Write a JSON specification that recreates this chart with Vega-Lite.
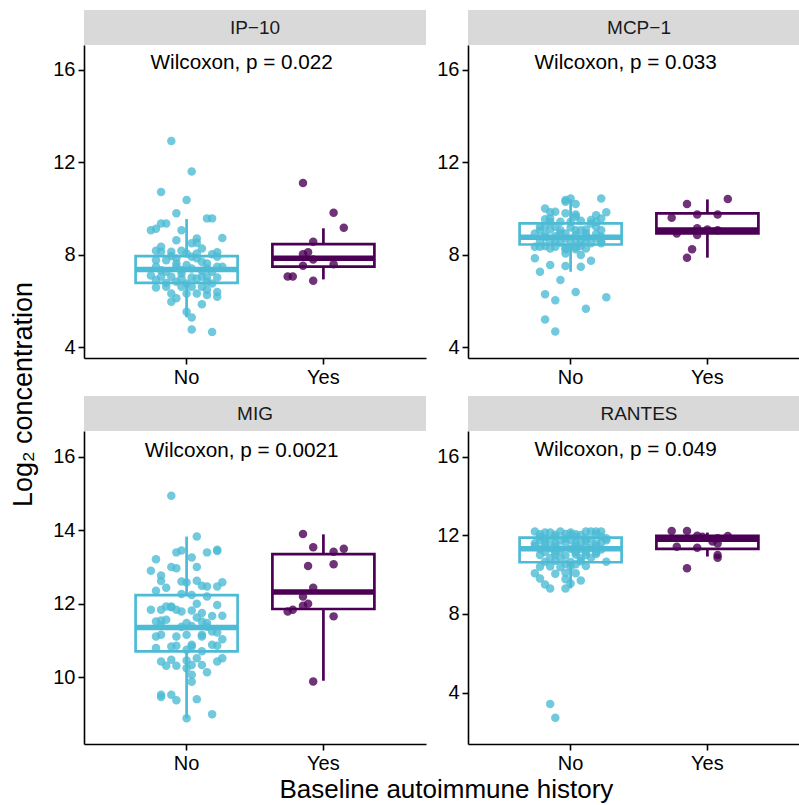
{
"$schema":"https://vega.github.io/schema/vega-lite/v6.json",
"padding":{"left":9,"top":10,"right":0,"bottom":0},
"title":{"text":"Log₂ concentration","orient":"left","anchor":"middle","fontSize":27,"font":"Liberation Sans","fontWeight":"normal","color":"black","offset":15,"dx":12},
"datasets":{
"box":[
{"cytokine":"IP-10","group":"No","lower":5.30,"q1":6.79,"median":7.37,"q3":7.95,"upper":9.55},
{"cytokine":"IP-10","group":"Yes","lower":6.94,"q1":7.49,"median":7.85,"q3":8.47,"upper":9.15},
{"cytokine":"MCP-1","group":"No","lower":7.27,"q1":8.45,"median":8.76,"q3":9.36,"upper":10.40},
{"cytokine":"MCP-1","group":"Yes","lower":7.88,"q1":8.93,"median":9.08,"q3":9.80,"upper":10.40},
{"cytokine":"MIG","group":"No","lower":8.89,"q1":10.71,"median":11.36,"q3":12.24,"upper":13.83},
{"cytokine":"MIG","group":"Yes","lower":9.91,"q1":11.86,"median":12.32,"q3":13.35,"upper":13.89},
{"cytokine":"RANTES","group":"No","lower":9.30,"q1":10.63,"median":11.32,"q3":11.88,"upper":12.27},
{"cytokine":"RANTES","group":"Yes","lower":10.92,"q1":11.31,"median":11.80,"q3":11.97,"upper":12.14}
],
"lab":[
{"cytokine":"IP-10","label":"Wilcoxon, p = 0.022","y":16.29},
{"cytokine":"MCP-1","label":"Wilcoxon, p = 0.033","y":16.29},
{"cytokine":"MIG","label":"Wilcoxon, p = 0.0021","y":16.15},
{"cytokine":"RANTES","label":"Wilcoxon, p = 0.049","y":16.34}
],
"pts":[
{"cytokine":"IP-10","group":"No","id":5,"value":12.93},{"cytokine":"IP-10","group":"No","id":9,"value":11.61},{"cytokine":"IP-10","group":"No","id":3,"value":10.72},{"cytokine":"IP-10","group":"No","id":8,"value":10.37},{"cytokine":"IP-10","group":"No","id":6,"value":9.80},{"cytokine":"IP-10","group":"No","id":12,"value":9.58},{"cytokine":"IP-10","group":"No","id":13,"value":9.58},{"cytokine":"IP-10","group":"No","id":3,"value":9.36},{"cytokine":"IP-10","group":"No","id":4,"value":9.36},{"cytokine":"IP-10","group":"No","id":1,"value":9.07},{"cytokine":"IP-10","group":"No","id":2,"value":9.13},{"cytokine":"IP-10","group":"No","id":7,"value":9.07},{"cytokine":"IP-10","group":"No","id":6,"value":8.63},{"cytokine":"IP-10","group":"No","id":10,"value":8.71},{"cytokine":"IP-10","group":"No","id":10,"value":8.53},{"cytokine":"IP-10","group":"No","id":15,"value":8.73},{"cytokine":"IP-10","group":"No","id":2,"value":8.18},{"cytokine":"IP-10","group":"No","id":3,"value":8.14},{"cytokine":"IP-10","group":"No","id":7,"value":8.18},{"cytokine":"IP-10","group":"No","id":14,"value":8.11},{"cytokine":"IP-10","group":"No","id":13,"value":8.03},{"cytokine":"IP-10","group":"No","id":5,"value":7.95},{"cytokine":"IP-10","group":"No","id":4,"value":7.77},{"cytokine":"IP-10","group":"No","id":9,"value":7.92},{"cytokine":"IP-10","group":"No","id":10,"value":7.85},{"cytokine":"IP-10","group":"No","id":11,"value":7.70},{"cytokine":"IP-10","group":"No","id":6,"value":7.63},{"cytokine":"IP-10","group":"No","id":8,"value":7.56},{"cytokine":"IP-10","group":"No","id":2,"value":7.49},{"cytokine":"IP-10","group":"No","id":3,"value":7.34},{"cytokine":"IP-10","group":"No","id":15,"value":7.49},{"cytokine":"IP-10","group":"No","id":7,"value":7.34},{"cytokine":"IP-10","group":"No","id":9,"value":7.41},{"cytokine":"IP-10","group":"No","id":11,"value":7.31},{"cytokine":"IP-10","group":"No","id":13,"value":7.27},{"cytokine":"IP-10","group":"No","id":12,"value":7.63},{"cytokine":"IP-10","group":"No","id":1,"value":7.11},{"cytokine":"IP-10","group":"No","id":3,"value":7.05},{"cytokine":"IP-10","group":"No","id":5,"value":7.05},{"cytokine":"IP-10","group":"No","id":7,"value":6.98},{"cytokine":"IP-10","group":"No","id":9,"value":7.02},{"cytokine":"IP-10","group":"No","id":11,"value":7.05},{"cytokine":"IP-10","group":"No","id":14,"value":7.02},{"cytokine":"IP-10","group":"No","id":4,"value":6.79},{"cytokine":"IP-10","group":"No","id":6,"value":6.84},{"cytokine":"IP-10","group":"No","id":8,"value":6.76},{"cytokine":"IP-10","group":"No","id":12,"value":6.84},{"cytokine":"IP-10","group":"No","id":13,"value":6.76},{"cytokine":"IP-10","group":"No","id":2,"value":6.59},{"cytokine":"IP-10","group":"No","id":7,"value":6.62},{"cytokine":"IP-10","group":"No","id":11,"value":6.62},{"cytokine":"IP-10","group":"No","id":12,"value":6.48},{"cytokine":"IP-10","group":"No","id":14,"value":6.40},{"cytokine":"IP-10","group":"No","id":5,"value":6.33},{"cytokine":"IP-10","group":"No","id":10,"value":6.33},{"cytokine":"IP-10","group":"No","id":12,"value":6.26},{"cytokine":"IP-10","group":"No","id":14,"value":6.19},{"cytokine":"IP-10","group":"No","id":6,"value":6.12},{"cytokine":"IP-10","group":"No","id":5,"value":5.97},{"cytokine":"IP-10","group":"No","id":11,"value":5.87},{"cytokine":"IP-10","group":"No","id":8,"value":5.54},{"cytokine":"IP-10","group":"No","id":9,"value":5.29},{"cytokine":"IP-10","group":"No","id":9,"value":4.77},{"cytokine":"IP-10","group":"No","id":13,"value":4.67},{"cytokine":"IP-10","group":"No","id":8,"value":8.06},{"cytokine":"IP-10","group":"No","id":6,"value":7.84},{"cytokine":"IP-10","group":"No","id":11,"value":8.28},{"cytokine":"IP-10","group":"No","id":14,"value":7.49},{"cytokine":"IP-10","group":"No","id":2,"value":7.77},{"cytokine":"IP-10","group":"No","id":10,"value":6.98},{"cytokine":"IP-10","group":"No","id":7,"value":7.20},{"cytokine":"IP-10","group":"No","id":4,"value":7.27},{"cytokine":"IP-10","group":"No","id":12,"value":7.41},{"cytokine":"IP-10","group":"No","id":10,"value":8.06},{"cytokine":"IP-10","group":"No","id":2,"value":6.91},{"cytokine":"IP-10","group":"No","id":14,"value":7.92},{"cytokine":"IP-10","group":"No","id":6,"value":7.49},{"cytokine":"IP-10","group":"No","id":8,"value":6.33},{"cytokine":"IP-10","group":"No","id":9,"value":6.62},{"cytokine":"IP-10","group":"No","id":4,"value":6.62},{"cytokine":"IP-10","group":"No","id":12,"value":7.05},{"cytokine":"IP-10","group":"No","id":5,"value":8.14},{"cytokine":"IP-10","group":"No","id":3,"value":8.35},{"cytokine":"IP-10","group":"No","id":9,"value":8.50},
{"cytokine":"IP-10","group":"Yes","id":4,"value":11.11},{"cytokine":"IP-10","group":"Yes","id":10,"value":9.82},{"cytokine":"IP-10","group":"Yes","id":12,"value":9.17},{"cytokine":"IP-10","group":"Yes","id":6,"value":8.57},{"cytokine":"IP-10","group":"Yes","id":5,"value":8.11},{"cytokine":"IP-10","group":"Yes","id":4,"value":8.03},{"cytokine":"IP-10","group":"Yes","id":6,"value":7.80},{"cytokine":"IP-10","group":"Yes","id":10,"value":7.60},{"cytokine":"IP-10","group":"Yes","id":4,"value":7.53},{"cytokine":"IP-10","group":"Yes","id":1,"value":7.07},{"cytokine":"IP-10","group":"Yes","id":2,"value":7.07},{"cytokine":"IP-10","group":"Yes","id":6,"value":6.88},
{"cytokine":"MCP-1","group":"No","id":8,"value":10.44},{"cytokine":"MCP-1","group":"No","id":7,"value":10.37},{"cytokine":"MCP-1","group":"No","id":7,"value":10.30},{"cytokine":"MCP-1","group":"No","id":14,"value":10.44},{"cytokine":"MCP-1","group":"No","id":9,"value":10.20},{"cytokine":"MCP-1","group":"No","id":3,"value":10.01},{"cytokine":"MCP-1","group":"No","id":4,"value":9.84},{"cytokine":"MCP-1","group":"No","id":7,"value":9.80},{"cytokine":"MCP-1","group":"No","id":9,"value":9.75},{"cytokine":"MCP-1","group":"No","id":13,"value":9.72},{"cytokine":"MCP-1","group":"No","id":15,"value":9.84},{"cytokine":"MCP-1","group":"No","id":3,"value":9.54},{"cytokine":"MCP-1","group":"No","id":4,"value":9.58},{"cytokine":"MCP-1","group":"No","id":6,"value":9.43},{"cytokine":"MCP-1","group":"No","id":8,"value":9.43},{"cytokine":"MCP-1","group":"No","id":10,"value":9.48},{"cytokine":"MCP-1","group":"No","id":12,"value":9.51},{"cytokine":"MCP-1","group":"No","id":14,"value":9.58},{"cytokine":"MCP-1","group":"No","id":2,"value":9.22},{"cytokine":"MCP-1","group":"No","id":4,"value":9.10},{"cytokine":"MCP-1","group":"No","id":6,"value":9.07},{"cytokine":"MCP-1","group":"No","id":8,"value":9.19},{"cytokine":"MCP-1","group":"No","id":11,"value":9.10},{"cytokine":"MCP-1","group":"No","id":13,"value":9.22},{"cytokine":"MCP-1","group":"No","id":1,"value":8.93},{"cytokine":"MCP-1","group":"No","id":3,"value":8.86},{"cytokine":"MCP-1","group":"No","id":5,"value":8.81},{"cytokine":"MCP-1","group":"No","id":7,"value":8.93},{"cytokine":"MCP-1","group":"No","id":9,"value":8.86},{"cytokine":"MCP-1","group":"No","id":11,"value":8.79},{"cytokine":"MCP-1","group":"No","id":13,"value":8.90},{"cytokine":"MCP-1","group":"No","id":14,"value":8.79},{"cytokine":"MCP-1","group":"No","id":2,"value":8.57},{"cytokine":"MCP-1","group":"No","id":4,"value":8.61},{"cytokine":"MCP-1","group":"No","id":6,"value":8.53},{"cytokine":"MCP-1","group":"No","id":9,"value":8.64},{"cytokine":"MCP-1","group":"No","id":10,"value":8.53},{"cytokine":"MCP-1","group":"No","id":14,"value":8.57},{"cytokine":"MCP-1","group":"No","id":1,"value":8.35},{"cytokine":"MCP-1","group":"No","id":3,"value":8.38},{"cytokine":"MCP-1","group":"No","id":5,"value":8.35},{"cytokine":"MCP-1","group":"No","id":7,"value":8.28},{"cytokine":"MCP-1","group":"No","id":9,"value":8.33},{"cytokine":"MCP-1","group":"No","id":11,"value":8.28},{"cytokine":"MCP-1","group":"No","id":14,"value":8.50},{"cytokine":"MCP-1","group":"No","id":10,"value":8.00},{"cytokine":"MCP-1","group":"No","id":9,"value":8.24},{"cytokine":"MCP-1","group":"No","id":1,"value":7.85},{"cytokine":"MCP-1","group":"No","id":12,"value":7.75},{"cytokine":"MCP-1","group":"No","id":4,"value":7.56},{"cytokine":"MCP-1","group":"No","id":7,"value":7.52},{"cytokine":"MCP-1","group":"No","id":10,"value":7.49},{"cytokine":"MCP-1","group":"No","id":2,"value":7.27},{"cytokine":"MCP-1","group":"No","id":6,"value":6.91},{"cytokine":"MCP-1","group":"No","id":9,"value":6.39},{"cytokine":"MCP-1","group":"No","id":3,"value":6.30},{"cytokine":"MCP-1","group":"No","id":15,"value":6.17},{"cytokine":"MCP-1","group":"No","id":5,"value":6.04},{"cytokine":"MCP-1","group":"No","id":11,"value":5.67},{"cytokine":"MCP-1","group":"No","id":3,"value":5.21},{"cytokine":"MCP-1","group":"No","id":5,"value":4.69},{"cytokine":"MCP-1","group":"No","id":2,"value":9.07},{"cytokine":"MCP-1","group":"No","id":5,"value":9.22},{"cytokine":"MCP-1","group":"No","id":7,"value":8.71},{"cytokine":"MCP-1","group":"No","id":9,"value":9.07},{"cytokine":"MCP-1","group":"No","id":11,"value":8.64},{"cytokine":"MCP-1","group":"No","id":13,"value":8.71},{"cytokine":"MCP-1","group":"No","id":4,"value":8.28},{"cytokine":"MCP-1","group":"No","id":6,"value":8.93},{"cytokine":"MCP-1","group":"No","id":10,"value":9.07},{"cytokine":"MCP-1","group":"No","id":12,"value":8.50},{"cytokine":"MCP-1","group":"No","id":3,"value":8.76},{"cytokine":"MCP-1","group":"No","id":8,"value":8.50},{"cytokine":"MCP-1","group":"No","id":13,"value":9.43},{"cytokine":"MCP-1","group":"No","id":4,"value":9.43},{"cytokine":"MCP-1","group":"No","id":5,"value":8.57},{"cytokine":"MCP-1","group":"No","id":11,"value":8.93},{"cytokine":"MCP-1","group":"No","id":7,"value":8.06},{"cytokine":"MCP-1","group":"No","id":14,"value":9.07},{"cytokine":"MCP-1","group":"No","id":2,"value":8.35},{"cytokine":"MCP-1","group":"No","id":9,"value":9.65},{"cytokine":"MCP-1","group":"No","id":5,"value":9.87},{"cytokine":"MCP-1","group":"No","id":10,"value":8.38},{"cytokine":"MCP-1","group":"No","id":7,"value":8.24},{"cytokine":"MCP-1","group":"No","id":12,"value":9.36},{"cytokine":"MCP-1","group":"No","id":3,"value":9.22},
{"cytokine":"MCP-1","group":"Yes","id":4,"value":10.20},{"cytokine":"MCP-1","group":"Yes","id":12,"value":10.42},{"cytokine":"MCP-1","group":"Yes","id":1,"value":9.61},{"cytokine":"MCP-1","group":"Yes","id":6,"value":9.75},{"cytokine":"MCP-1","group":"Yes","id":10,"value":9.75},{"cytokine":"MCP-1","group":"Yes","id":2,"value":8.93},{"cytokine":"MCP-1","group":"Yes","id":6,"value":8.86},{"cytokine":"MCP-1","group":"Yes","id":6,"value":9.15},{"cytokine":"MCP-1","group":"Yes","id":10,"value":9.07},{"cytokine":"MCP-1","group":"Yes","id":5,"value":8.24},{"cytokine":"MCP-1","group":"Yes","id":4,"value":7.88},{"cytokine":"MCP-1","group":"Yes","id":8,"value":9.10},
{"cytokine":"MIG","group":"No","id":5,"value":14.94},{"cytokine":"MIG","group":"No","id":10,"value":13.83},{"cytokine":"MIG","group":"No","id":6,"value":13.40},{"cytokine":"MIG","group":"No","id":7,"value":13.45},{"cytokine":"MIG","group":"No","id":12,"value":13.40},{"cytokine":"MIG","group":"No","id":14,"value":13.47},{"cytokine":"MIG","group":"No","id":14,"value":13.44},{"cytokine":"MIG","group":"No","id":9,"value":13.26},{"cytokine":"MIG","group":"No","id":2,"value":13.21},{"cytokine":"MIG","group":"No","id":5,"value":13.00},{"cytokine":"MIG","group":"No","id":6,"value":12.97},{"cytokine":"MIG","group":"No","id":10,"value":13.00},{"cytokine":"MIG","group":"No","id":1,"value":12.90},{"cytokine":"MIG","group":"No","id":3,"value":12.77},{"cytokine":"MIG","group":"No","id":3,"value":12.62},{"cytokine":"MIG","group":"No","id":7,"value":12.61},{"cytokine":"MIG","group":"No","id":8,"value":12.58},{"cytokine":"MIG","group":"No","id":10,"value":12.63},{"cytokine":"MIG","group":"No","id":11,"value":12.49},{"cytokine":"MIG","group":"No","id":12,"value":12.47},{"cytokine":"MIG","group":"No","id":14,"value":12.47},{"cytokine":"MIG","group":"No","id":15,"value":12.59},{"cytokine":"MIG","group":"No","id":4,"value":12.44},{"cytokine":"MIG","group":"No","id":2,"value":12.36},{"cytokine":"MIG","group":"No","id":7,"value":12.27},{"cytokine":"MIG","group":"No","id":9,"value":12.24},{"cytokine":"MIG","group":"No","id":12,"value":12.20},{"cytokine":"MIG","group":"No","id":10,"value":12.00},{"cytokine":"MIG","group":"No","id":4,"value":11.93},{"cytokine":"MIG","group":"No","id":5,"value":11.91},{"cytokine":"MIG","group":"No","id":5,"value":11.93},{"cytokine":"MIG","group":"No","id":1,"value":11.84},{"cytokine":"MIG","group":"No","id":3,"value":11.84},{"cytokine":"MIG","group":"No","id":6,"value":11.84},{"cytokine":"MIG","group":"No","id":7,"value":11.79},{"cytokine":"MIG","group":"No","id":9,"value":11.82},{"cytokine":"MIG","group":"No","id":11,"value":11.75},{"cytokine":"MIG","group":"No","id":13,"value":11.67},{"cytokine":"MIG","group":"No","id":15,"value":11.68},{"cytokine":"MIG","group":"No","id":10,"value":11.63},{"cytokine":"MIG","group":"No","id":2,"value":11.52},{"cytokine":"MIG","group":"No","id":3,"value":11.55},{"cytokine":"MIG","group":"No","id":11,"value":11.52},{"cytokine":"MIG","group":"No","id":12,"value":11.48},{"cytokine":"MIG","group":"No","id":7,"value":11.38},{"cytokine":"MIG","group":"No","id":8,"value":11.48},{"cytokine":"MIG","group":"No","id":9,"value":11.40},{"cytokine":"MIG","group":"No","id":3,"value":11.42},{"cytokine":"MIG","group":"No","id":12,"value":11.38},{"cytokine":"MIG","group":"No","id":13,"value":11.25},{"cytokine":"MIG","group":"No","id":14,"value":11.22},{"cytokine":"MIG","group":"No","id":3,"value":11.16},{"cytokine":"MIG","group":"No","id":8,"value":11.16},{"cytokine":"MIG","group":"No","id":11,"value":11.11},{"cytokine":"MIG","group":"No","id":11,"value":11.16},{"cytokine":"MIG","group":"No","id":15,"value":11.04},{"cytokine":"MIG","group":"No","id":9,"value":10.89},{"cytokine":"MIG","group":"No","id":9,"value":10.84},{"cytokine":"MIG","group":"No","id":13,"value":10.89},{"cytokine":"MIG","group":"No","id":14,"value":10.86},{"cytokine":"MIG","group":"No","id":2,"value":10.80},{"cytokine":"MIG","group":"No","id":5,"value":10.84},{"cytokine":"MIG","group":"No","id":6,"value":10.86},{"cytokine":"MIG","group":"No","id":8,"value":10.75},{"cytokine":"MIG","group":"No","id":11,"value":10.71},{"cytokine":"MIG","group":"No","id":10,"value":10.52},{"cytokine":"MIG","group":"No","id":15,"value":10.52},{"cytokine":"MIG","group":"No","id":14,"value":10.43},{"cytokine":"MIG","group":"No","id":3,"value":10.43},{"cytokine":"MIG","group":"No","id":5,"value":10.48},{"cytokine":"MIG","group":"No","id":4,"value":10.32},{"cytokine":"MIG","group":"No","id":6,"value":10.32},{"cytokine":"MIG","group":"No","id":8,"value":10.46},{"cytokine":"MIG","group":"No","id":9,"value":10.34},{"cytokine":"MIG","group":"No","id":11,"value":10.34},{"cytokine":"MIG","group":"No","id":8,"value":10.25},{"cytokine":"MIG","group":"No","id":12,"value":10.14},{"cytokine":"MIG","group":"No","id":9,"value":10.07},{"cytokine":"MIG","group":"No","id":9,"value":9.88},{"cytokine":"MIG","group":"No","id":3,"value":9.53},{"cytokine":"MIG","group":"No","id":3,"value":9.47},{"cytokine":"MIG","group":"No","id":5,"value":9.53},{"cytokine":"MIG","group":"No","id":6,"value":9.38},{"cytokine":"MIG","group":"No","id":10,"value":9.41},{"cytokine":"MIG","group":"No","id":13,"value":9.00},{"cytokine":"MIG","group":"No","id":8,"value":8.89},{"cytokine":"MIG","group":"No","id":4,"value":11.57},{"cytokine":"MIG","group":"No","id":6,"value":11.11},{"cytokine":"MIG","group":"No","id":14,"value":11.97},{"cytokine":"MIG","group":"No","id":2,"value":11.11},
{"cytokine":"MIG","group":"Yes","id":4,"value":13.90},{"cytokine":"MIG","group":"Yes","id":6,"value":13.54},{"cytokine":"MIG","group":"Yes","id":10,"value":13.42},{"cytokine":"MIG","group":"Yes","id":12,"value":13.50},{"cytokine":"MIG","group":"Yes","id":5,"value":13.03},{"cytokine":"MIG","group":"Yes","id":10,"value":13.08},{"cytokine":"MIG","group":"Yes","id":6,"value":12.44},{"cytokine":"MIG","group":"Yes","id":4,"value":12.20},{"cytokine":"MIG","group":"Yes","id":5,"value":12.00},{"cytokine":"MIG","group":"Yes","id":4,"value":11.95},{"cytokine":"MIG","group":"Yes","id":2,"value":11.84},{"cytokine":"MIG","group":"Yes","id":1,"value":11.79},{"cytokine":"MIG","group":"Yes","id":10,"value":11.66},{"cytokine":"MIG","group":"Yes","id":6,"value":9.89},
{"cytokine":"RANTES","group":"No","id":1,"value":12.19},{"cytokine":"RANTES","group":"No","id":3,"value":12.15},{"cytokine":"RANTES","group":"No","id":4,"value":12.15},{"cytokine":"RANTES","group":"No","id":6,"value":12.19},{"cytokine":"RANTES","group":"No","id":8,"value":12.15},{"cytokine":"RANTES","group":"No","id":11,"value":12.19},{"cytokine":"RANTES","group":"No","id":12,"value":12.19},{"cytokine":"RANTES","group":"No","id":13,"value":12.19},{"cytokine":"RANTES","group":"No","id":14,"value":12.19},
{"cytokine":"RANTES","group":"No","id":2,"value":11.93},{"cytokine":"RANTES","group":"No","id":3,"value":11.85},{"cytokine":"RANTES","group":"No","id":5,"value":11.93},{"cytokine":"RANTES","group":"No","id":7,"value":11.85},{"cytokine":"RANTES","group":"No","id":9,"value":11.93},{"cytokine":"RANTES","group":"No","id":11,"value":11.85},{"cytokine":"RANTES","group":"No","id":14,"value":11.93},{"cytokine":"RANTES","group":"No","id":15,"value":11.85},
{"cytokine":"RANTES","group":"No","id":1,"value":11.60},{"cytokine":"RANTES","group":"No","id":3,"value":11.65},{"cytokine":"RANTES","group":"No","id":5,"value":11.58},{"cytokine":"RANTES","group":"No","id":7,"value":11.62},{"cytokine":"RANTES","group":"No","id":9,"value":11.60},{"cytokine":"RANTES","group":"No","id":10,"value":11.66},{"cytokine":"RANTES","group":"No","id":13,"value":11.58},{"cytokine":"RANTES","group":"No","id":14,"value":11.62},
{"cytokine":"RANTES","group":"No","id":2,"value":11.30},{"cytokine":"RANTES","group":"No","id":4,"value":11.34},{"cytokine":"RANTES","group":"No","id":6,"value":11.28},{"cytokine":"RANTES","group":"No","id":8,"value":11.32},{"cytokine":"RANTES","group":"No","id":10,"value":11.30},{"cytokine":"RANTES","group":"No","id":12,"value":11.35},{"cytokine":"RANTES","group":"No","id":14,"value":11.28},
{"cytokine":"RANTES","group":"No","id":2,"value":11.00},{"cytokine":"RANTES","group":"No","id":5,"value":11.04},{"cytokine":"RANTES","group":"No","id":7,"value":10.98},{"cytokine":"RANTES","group":"No","id":9,"value":11.02},{"cytokine":"RANTES","group":"No","id":11,"value":11.00},{"cytokine":"RANTES","group":"No","id":13,"value":11.05},
{"cytokine":"RANTES","group":"No","id":3,"value":10.66},{"cytokine":"RANTES","group":"No","id":5,"value":10.70},{"cytokine":"RANTES","group":"No","id":8,"value":10.64},{"cytokine":"RANTES","group":"No","id":10,"value":10.68},{"cytokine":"RANTES","group":"No","id":15,"value":10.66},
{"cytokine":"RANTES","group":"No","id":2,"value":10.40},{"cytokine":"RANTES","group":"No","id":4,"value":10.42},{"cytokine":"RANTES","group":"No","id":6,"value":10.38},{"cytokine":"RANTES","group":"No","id":8,"value":10.40},{"cytokine":"RANTES","group":"No","id":11,"value":10.44},
{"cytokine":"RANTES","group":"No","id":1,"value":10.07},{"cytokine":"RANTES","group":"No","id":5,"value":10.05},{"cytokine":"RANTES","group":"No","id":7,"value":10.10},{"cytokine":"RANTES","group":"No","id":9,"value":10.07},
{"cytokine":"RANTES","group":"No","id":2,"value":9.80},{"cytokine":"RANTES","group":"No","id":7,"value":9.76},{"cytokine":"RANTES","group":"No","id":10,"value":9.70},
{"cytokine":"RANTES","group":"No","id":3,"value":9.50},{"cytokine":"RANTES","group":"No","id":8,"value":9.55},{"cytokine":"RANTES","group":"No","id":4,"value":9.30},{"cytokine":"RANTES","group":"No","id":7,"value":9.30},
{"cytokine":"RANTES","group":"No","id":4,"value":3.41},{"cytokine":"RANTES","group":"No","id":5,"value":2.71},
{"cytokine":"RANTES","group":"No","id":2,"value":12.05},{"cytokine":"RANTES","group":"No","id":5,"value":12.03},{"cytokine":"RANTES","group":"No","id":7,"value":12.07},{"cytokine":"RANTES","group":"No","id":9,"value":12.05},{"cytokine":"RANTES","group":"No","id":10,"value":12.02},{"cytokine":"RANTES","group":"No","id":13,"value":12.06},
{"cytokine":"RANTES","group":"No","id":2,"value":11.75},{"cytokine":"RANTES","group":"No","id":4,"value":11.78},{"cytokine":"RANTES","group":"No","id":6,"value":11.74},{"cytokine":"RANTES","group":"No","id":8,"value":11.76},{"cytokine":"RANTES","group":"No","id":11,"value":11.72},{"cytokine":"RANTES","group":"No","id":12,"value":11.77},{"cytokine":"RANTES","group":"No","id":15,"value":11.75},
{"cytokine":"RANTES","group":"No","id":1,"value":11.45},{"cytokine":"RANTES","group":"No","id":3,"value":11.47},{"cytokine":"RANTES","group":"No","id":5,"value":11.44},{"cytokine":"RANTES","group":"No","id":9,"value":11.46},{"cytokine":"RANTES","group":"No","id":11,"value":11.43},{"cytokine":"RANTES","group":"No","id":13,"value":11.45},
{"cytokine":"RANTES","group":"No","id":3,"value":11.15},{"cytokine":"RANTES","group":"No","id":5,"value":11.17},{"cytokine":"RANTES","group":"No","id":9,"value":11.14},{"cytokine":"RANTES","group":"No","id":11,"value":11.16},{"cytokine":"RANTES","group":"No","id":13,"value":11.15},
{"cytokine":"RANTES","group":"No","id":4,"value":10.85},{"cytokine":"RANTES","group":"No","id":6,"value":10.87},{"cytokine":"RANTES","group":"No","id":10,"value":10.84},{"cytokine":"RANTES","group":"No","id":12,"value":10.86},{"cytokine":"RANTES","group":"No","id":7,"value":10.55},{"cytokine":"RANTES","group":"No","id":9,"value":10.53},
{"cytokine":"RANTES","group":"Yes","id":1,"value":12.22},{"cytokine":"RANTES","group":"Yes","id":4,"value":12.22},{"cytokine":"RANTES","group":"Yes","id":6,"value":11.98},{"cytokine":"RANTES","group":"Yes","id":12,"value":11.97},{"cytokine":"RANTES","group":"Yes","id":10,"value":11.85},{"cytokine":"RANTES","group":"Yes","id":2,"value":11.42},{"cytokine":"RANTES","group":"Yes","id":6,"value":11.37},{"cytokine":"RANTES","group":"Yes","id":10,"value":11.59},{"cytokine":"RANTES","group":"Yes","id":10,"value":11.00},{"cytokine":"RANTES","group":"Yes","id":10,"value":10.86},{"cytokine":"RANTES","group":"Yes","id":4,"value":10.32},{"cytokine":"RANTES","group":"Yes","id":7,"value":11.93},{"cytokine":"RANTES","group":"Yes","id":9,"value":11.68}
]
},
"vconcat":[{
"title":{"text":"Baseline autoimmune history","orient":"bottom","anchor":"middle","fontSize":26,"font":"Liberation Sans","fontWeight":"normal","color":"black","offset":4,"dx":15},
"spacing":9,
"vconcat":[
{"hconcat":[
{"spacing":0,"vconcat":[
{"width":342,"height":35,"view":{"fill":"#d9d9d9","stroke":null},"data":{"values":[{"name":"IP−10"}]},"mark":{"type":"text","fontSize":19,"color":"#1a1a1a"},"encoding":{"text":{"field":"name"}}},
{"width":342,"height":313,"layer":[
{"data":{"name":"box"},"transform":[{"filter":"datum.cytokine === 'IP-10'"}],"mark":{"type":"rule","strokeWidth":2.7},"encoding":{"x":{"field":"group","type":"nominal","title":null,"scale":{"domain":["No","Yes"],"paddingInner":0.254,"paddingOuter":0.377}},"y":{"field":"lower","type":"quantitative","title":null,"scale":{"domain":[3.54,17.08],"nice":false,"zero":false},"axis":{"values":[4,8,12,16]}},"y2":{"field":"upper"},"color":{"field":"group","type":"nominal","scale":{"domain":["No","Yes"],"range":["#4DBBD5","#4B0055"]},"legend":null}}},
{"data":{"name":"box"},"transform":[{"filter":"datum.cytokine === 'IP-10'"}],"mark":{"type":"bar","fill":"white","strokeWidth":2.7,"width":102},"encoding":{"x":{"field":"group","type":"nominal","title":null},"y":{"field":"q1","type":"quantitative","title":null},"y2":{"field":"q3"},"stroke":{"field":"group","type":"nominal","scale":{"domain":["No","Yes"],"range":["#4DBBD5","#4B0055"]},"legend":null}}},
{"data":{"name":"box"},"transform":[{"filter":"datum.cytokine === 'IP-10'"}],"mark":{"type":"tick","orient":"horizontal","thickness":5.5,"size":102,"opacity":1},"encoding":{"x":{"field":"group","type":"nominal","title":null},"y":{"field":"median","type":"quantitative","title":null},"color":{"field":"group","type":"nominal","legend":null}}},
{"data":{"name":"pts"},"transform":[{"filter":"datum.cytokine === 'IP-10'"}],"mark":{"type":"circle","size":72,"opacity":0.8},"encoding":{"x":{"field":"group","type":"nominal","title":null},"xOffset":{"field":"id","type":"nominal","scale":{"domain":[-2,-1,0,1,2,3,4,5,6,7,8,9,10,11,12,13,14,15,16,17,18],"paddingOuter":0,"paddingInner":0}},"y":{"field":"value","type":"quantitative","title":null},"color":{"field":"group","type":"nominal","legend":null}}},
{"data":{"name":"lab"},"transform":[{"filter":"datum.cytokine === 'IP-10'"}],"mark":{"type":"text","fontSize":20.7,"color":"black"},"encoding":{"x":{"datum":"No","type":"nominal","bandPosition":1.04},"y":{"field":"y","type":"quantitative","title":null},"text":{"field":"label"}}}
]}
]},
{"spacing":0,"vconcat":[
{"width":342,"height":35,"view":{"fill":"#d9d9d9","stroke":null},"data":{"values":[{"name":"MCP−1"}]},"mark":{"type":"text","fontSize":19,"color":"#1a1a1a"},"encoding":{"text":{"field":"name"}}},
{"width":342,"height":313,"layer":[
{"data":{"name":"box"},"transform":[{"filter":"datum.cytokine === 'MCP-1'"}],"mark":{"type":"rule","strokeWidth":2.7},"encoding":{"x":{"field":"group","type":"nominal","title":null,"scale":{"domain":["No","Yes"],"paddingInner":0.254,"paddingOuter":0.377}},"y":{"field":"lower","type":"quantitative","title":null,"scale":{"domain":[3.54,17.08],"nice":false,"zero":false},"axis":{"values":[4,8,12,16]}},"y2":{"field":"upper"},"color":{"field":"group","type":"nominal","scale":{"domain":["No","Yes"],"range":["#4DBBD5","#4B0055"]},"legend":null}}},
{"data":{"name":"box"},"transform":[{"filter":"datum.cytokine === 'MCP-1'"}],"mark":{"type":"bar","fill":"white","strokeWidth":2.7,"width":102},"encoding":{"x":{"field":"group","type":"nominal","title":null},"y":{"field":"q1","type":"quantitative","title":null},"y2":{"field":"q3"},"stroke":{"field":"group","type":"nominal","scale":{"domain":["No","Yes"],"range":["#4DBBD5","#4B0055"]},"legend":null}}},
{"data":{"name":"box"},"transform":[{"filter":"datum.cytokine === 'MCP-1'"}],"mark":{"type":"tick","orient":"horizontal","thickness":5.5,"size":102,"opacity":1},"encoding":{"x":{"field":"group","type":"nominal","title":null},"y":{"field":"median","type":"quantitative","title":null},"color":{"field":"group","type":"nominal","legend":null}}},
{"data":{"name":"pts"},"transform":[{"filter":"datum.cytokine === 'MCP-1'"}],"mark":{"type":"circle","size":72,"opacity":0.8},"encoding":{"x":{"field":"group","type":"nominal","title":null},"xOffset":{"field":"id","type":"nominal","scale":{"domain":[-2,-1,0,1,2,3,4,5,6,7,8,9,10,11,12,13,14,15,16,17,18],"paddingOuter":0,"paddingInner":0}},"y":{"field":"value","type":"quantitative","title":null},"color":{"field":"group","type":"nominal","legend":null}}},
{"data":{"name":"lab"},"transform":[{"filter":"datum.cytokine === 'MCP-1'"}],"mark":{"type":"text","fontSize":20.7,"color":"black"},"encoding":{"x":{"datum":"No","type":"nominal","bandPosition":1.04},"y":{"field":"y","type":"quantitative","title":null},"text":{"field":"label"}}}
]}
]}
],"spacing":10},
{"hconcat":[
{"spacing":0,"vconcat":[
{"width":342,"height":35,"view":{"fill":"#d9d9d9","stroke":null},"data":{"values":[{"name":"MIG"}]},"mark":{"type":"text","fontSize":19,"color":"#1a1a1a"},"encoding":{"text":{"field":"name"}}},
{"width":342,"height":313,"layer":[
{"data":{"name":"box"},"transform":[{"filter":"datum.cytokine === 'MIG'"}],"mark":{"type":"rule","strokeWidth":2.7},"encoding":{"x":{"field":"group","type":"nominal","title":null,"scale":{"domain":["No","Yes"],"paddingInner":0.254,"paddingOuter":0.377}},"y":{"field":"lower","type":"quantitative","title":null,"scale":{"domain":[8.19,16.70],"nice":false,"zero":false},"axis":{"values":[10,12,14,16]}},"y2":{"field":"upper"},"color":{"field":"group","type":"nominal","scale":{"domain":["No","Yes"],"range":["#4DBBD5","#4B0055"]},"legend":null}}},
{"data":{"name":"box"},"transform":[{"filter":"datum.cytokine === 'MIG'"}],"mark":{"type":"bar","fill":"white","strokeWidth":2.7,"width":102},"encoding":{"x":{"field":"group","type":"nominal","title":null},"y":{"field":"q1","type":"quantitative","title":null},"y2":{"field":"q3"},"stroke":{"field":"group","type":"nominal","scale":{"domain":["No","Yes"],"range":["#4DBBD5","#4B0055"]},"legend":null}}},
{"data":{"name":"box"},"transform":[{"filter":"datum.cytokine === 'MIG'"}],"mark":{"type":"tick","orient":"horizontal","thickness":5.5,"size":102,"opacity":1},"encoding":{"x":{"field":"group","type":"nominal","title":null},"y":{"field":"median","type":"quantitative","title":null},"color":{"field":"group","type":"nominal","legend":null}}},
{"data":{"name":"pts"},"transform":[{"filter":"datum.cytokine === 'MIG'"}],"mark":{"type":"circle","size":72,"opacity":0.8},"encoding":{"x":{"field":"group","type":"nominal","title":null},"xOffset":{"field":"id","type":"nominal","scale":{"domain":[-2,-1,0,1,2,3,4,5,6,7,8,9,10,11,12,13,14,15,16,17,18],"paddingOuter":0,"paddingInner":0}},"y":{"field":"value","type":"quantitative","title":null},"color":{"field":"group","type":"nominal","legend":null}}},
{"data":{"name":"lab"},"transform":[{"filter":"datum.cytokine === 'MIG'"}],"mark":{"type":"text","fontSize":20.7,"color":"black"},"encoding":{"x":{"datum":"No","type":"nominal","bandPosition":1.04},"y":{"field":"y","type":"quantitative","title":null},"text":{"field":"label"}}}
]}
]},
{"spacing":0,"vconcat":[
{"width":342,"height":35,"view":{"fill":"#d9d9d9","stroke":null},"data":{"values":[{"name":"RANTES"}]},"mark":{"type":"text","fontSize":19,"color":"#1a1a1a"},"encoding":{"text":{"field":"name"}}},
{"width":342,"height":313,"layer":[
{"data":{"name":"box"},"transform":[{"filter":"datum.cytokine === 'RANTES'"}],"mark":{"type":"rule","strokeWidth":2.7},"encoding":{"x":{"field":"group","type":"nominal","title":null,"scale":{"domain":["No","Yes"],"paddingInner":0.254,"paddingOuter":0.377}},"y":{"field":"lower","type":"quantitative","title":null,"scale":{"domain":[1.38,17.31],"nice":false,"zero":false},"axis":{"values":[4,8,12,16]}},"y2":{"field":"upper"},"color":{"field":"group","type":"nominal","scale":{"domain":["No","Yes"],"range":["#4DBBD5","#4B0055"]},"legend":null}}},
{"data":{"name":"box"},"transform":[{"filter":"datum.cytokine === 'RANTES'"}],"mark":{"type":"bar","fill":"white","strokeWidth":2.7,"width":102},"encoding":{"x":{"field":"group","type":"nominal","title":null},"y":{"field":"q1","type":"quantitative","title":null},"y2":{"field":"q3"},"stroke":{"field":"group","type":"nominal","scale":{"domain":["No","Yes"],"range":["#4DBBD5","#4B0055"]},"legend":null}}},
{"data":{"name":"box"},"transform":[{"filter":"datum.cytokine === 'RANTES'"}],"mark":{"type":"tick","orient":"horizontal","thickness":5.5,"size":102,"opacity":1},"encoding":{"x":{"field":"group","type":"nominal","title":null},"y":{"field":"median","type":"quantitative","title":null},"color":{"field":"group","type":"nominal","legend":null}}},
{"data":{"name":"pts"},"transform":[{"filter":"datum.cytokine === 'RANTES'"}],"mark":{"type":"circle","size":72,"opacity":0.8},"encoding":{"x":{"field":"group","type":"nominal","title":null},"xOffset":{"field":"id","type":"nominal","scale":{"domain":[-2,-1,0,1,2,3,4,5,6,7,8,9,10,11,12,13,14,15,16,17,18],"paddingOuter":0,"paddingInner":0}},"y":{"field":"value","type":"quantitative","title":null},"color":{"field":"group","type":"nominal","legend":null}}},
{"data":{"name":"lab"},"transform":[{"filter":"datum.cytokine === 'RANTES'"}],"mark":{"type":"text","fontSize":20.7,"color":"black"},"encoding":{"x":{"datum":"No","type":"nominal","bandPosition":1.04},"y":{"field":"y","type":"quantitative","title":null},"text":{"field":"label"}}}
]}
]}
],"spacing":10}
]}],
"config":{
"font":"Liberation Sans",
"view":{"stroke":null},
"axis":{"domainColor":"black","domainWidth":1.6,"tickColor":"black","tickWidth":1.6,"tickSize":6,"labelColor":"black","labelFontSize":20,"labelFont":"Liberation Sans","labelPadding":3,"grid":false},
"axisX":{"labelAngle":0}
}
}
